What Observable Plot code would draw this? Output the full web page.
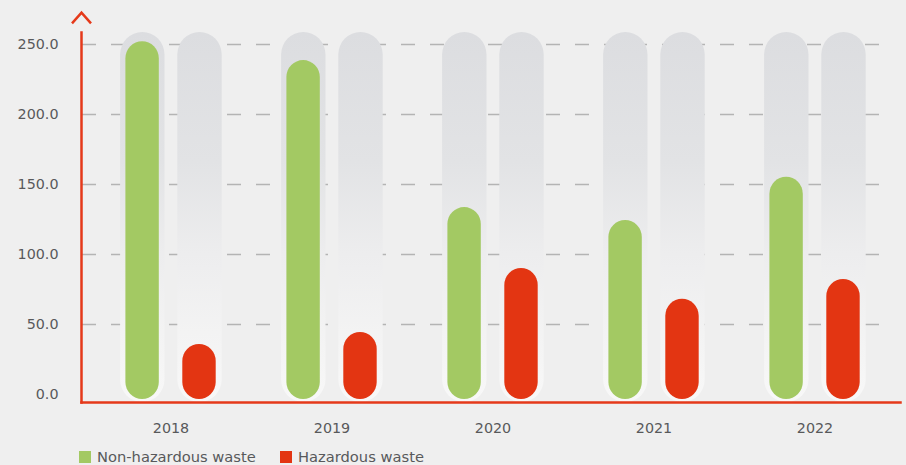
<!DOCTYPE html>
<html>
<head>
<meta charset="utf-8">
<script src="https://cdn.jsdelivr.net/npm/d3@7"></script>
<script src="https://cdn.jsdelivr.net/npm/@observablehq/plot@0.6"></script>
<style>
  html, body { margin: 0; padding: 0; background: #efefef; }
  #wrap { position: relative; width: 906px; height: 465px; font-family: "DejaVu Sans", sans-serif; }
  .leg { position: absolute; top: 449px; display: flex; align-items: center; font-size: 14.7px; color: #58595b; line-height: 16px; }
  .leg .sw { width: 12px; height: 12px; margin-right: 6px; }
</style>
</head>
<body>
<div id="wrap"></div>
<script>
const years = ["2018", "2019", "2020", "2021", "2022"];
const nonHazardous = [252, 238.5, 133.5, 124.3, 155.2];
const hazardous = [35.7, 44.3, 90, 68, 82.1];
const yTicks = [0, 50, 100, 150, 200, 250];
const seriesNames = ["Non-hazardous waste", "Hazardous waste"];
const seriesColors = ["#a3c963", "#e33512"];

const red = "#e5391a";
const nonRows = years.map((y, i) => ({year: y, value: nonHazardous[i]}));
const hazRows = years.map((y, i) => ({year: y, value: hazardous[i]}));

const chevron = {
  draw(ctx) {
    ctx.moveTo(-9.5, 5.3);
    ctx.lineTo(0, -5.3);
    ctx.lineTo(9.5, 5.3);
  }
};

const chart = Plot.plot({
  width: 906,
  height: 440,
  marginLeft: 81,
  marginRight: 6,
  marginTop: 32,
  marginBottom: 38,
  style: {background: "transparent", color: "#58595b", fontSize: "14.3px", fontFamily: "'DejaVu Sans', sans-serif", overflow: "visible"},
  x: {domain: years, padding: 0, insetLeft: 7, insetRight: 4, label: null},
  y: {domain: [0, 250], insetTop: 12, insetBottom: 8, label: null},
  marks: [
    Plot.ruleY(yTicks.filter(d => d > 0), {stroke: "#b4b4b4", strokeWidth: 1.5, strokeDasharray: "14,15", insetLeft: 1, insetRight: 13}),
    Plot.cell(years, {x: d => d, fill: "url(#tubeGrad)", rx: 22.5, insetLeft: 30.1, insetRight: 86.5}),
    Plot.cell(years, {x: d => d, fill: "url(#tubeGrad)", rx: 22.5, insetLeft: 87.3, insetRight: 29.3}),
    Plot.barY(nonRows, {x: "year", y: "value", fill: seriesColors[0], rx: 17, insetLeft: 35.4, insetRight: 92.2, insetBottom: -5}),
    Plot.barY(hazRows, {x: "year", y: "value", fill: seriesColors[1], rx: 17, insetLeft: 92.3, insetRight: 35.3, insetBottom: -5}),
    Plot.axisY({ticks: yTicks, tickFormat: d3.format(".1f"), tickSize: 0, tickPadding: 23}),
    Plot.axisX({tickSize: 0, tickPadding: 20}),
    Plot.frame({anchor: "left", stroke: red, strokeWidth: 2.5}),
    Plot.frame({anchor: "bottom", stroke: red, strokeWidth: 2.5}),
    Plot.dot([0], {frameAnchor: "top-left", symbol: chevron, stroke: red, strokeWidth: 2.5, fill: "none", dy: -14.5, r: 5})
  ]
});

const defs = d3.select(chart).insert("defs", ":first-child");
const g = defs.append("linearGradient").attr("id", "tubeGrad").attr("x1", 0).attr("y1", 0).attr("x2", 0).attr("y2", 1);
[[0, "#dcdde0"], [0.35, "#e2e3e5"], [0.6, "#ededee"], [0.85, "#f4f4f4"], [1, "#f8f8f8"]].forEach(([o, c]) =>
  g.append("stop").attr("offset", o).attr("stop-color", c));

const wrap = document.getElementById("wrap");
wrap.appendChild(chart);

const legLefts = [79, 280];
seriesNames.forEach((name, i) => {
  const item = document.createElement("div");
  item.className = "leg";
  item.style.left = legLefts[i] + "px";
  const sw = document.createElement("span");
  sw.className = "sw";
  sw.style.background = seriesColors[i];
  const tx = document.createElement("span");
  tx.textContent = name;
  item.appendChild(sw);
  item.appendChild(tx);
  wrap.appendChild(item);
});
</script>
</body>
</html>
